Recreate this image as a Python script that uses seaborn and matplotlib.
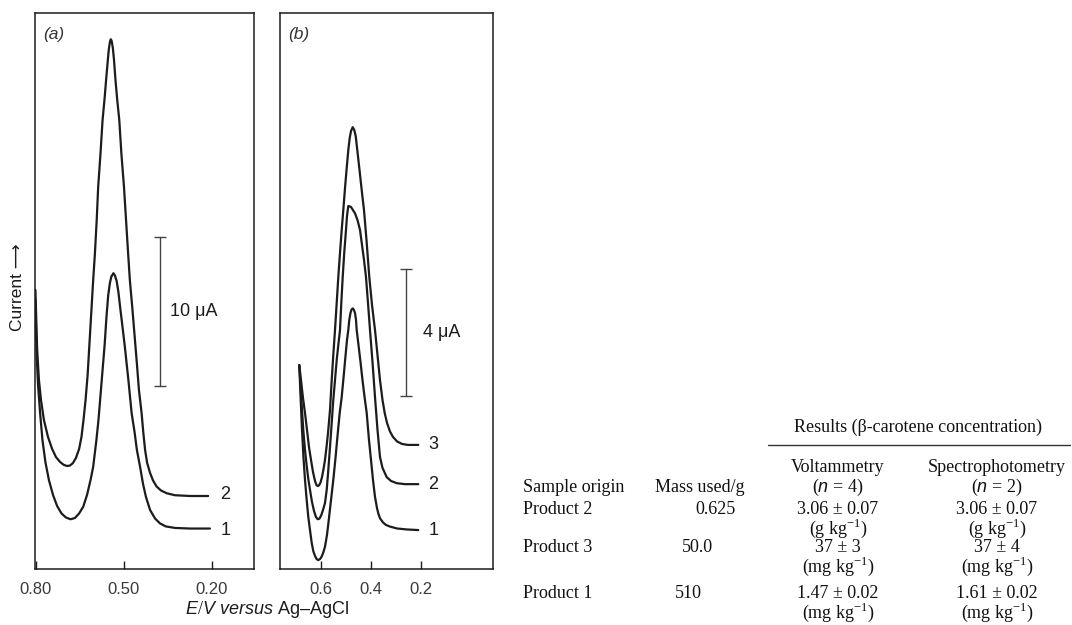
import numpy as np
import pandas as pd
import matplotlib
matplotlib.use('Agg')
import matplotlib.pyplot as plt
import seaborn as sns

# panel (a): potential E (V) and current I (uA)
a1_E = [0.802, 0.800, 0.797, 0.793, 0.786, 0.778, 0.768, 0.756, 0.742, 0.728,
        0.713, 0.698, 0.682, 0.667, 0.653, 0.639, 0.626, 0.614, 0.605, 0.594,
        0.587, 0.580, 0.573, 0.566, 0.560, 0.554, 0.548, 0.543, 0.536, 0.531,
        0.525, 0.519, 0.512, 0.505, 0.497, 0.485, 0.474, 0.464, 0.456, 0.445,
        0.435, 0.425, 0.411, 0.394, 0.377, 0.357, 0.326, 0.275, 0.207]
a1_I = [18.02, 16.01, 14.00, 12.32, 10.45, 8.64, 7.17, 5.96, 4.96, 4.22,
        3.72, 3.45, 3.33, 3.42, 3.72, 4.17, 4.96, 5.96, 6.85, 8.64,
        9.98, 11.65, 13.33, 15.00, 16.81, 18.29, 19.16, 19.59, 19.81, 19.66,
        19.29, 18.55, 17.35, 16.21, 14.87, 12.66, 10.45, 9.18, 7.97, 6.83,
        5.69, 4.82, 3.95, 3.38, 3.05, 2.85, 2.75, 2.71, 2.71]
a2_E = [0.802, 0.799, 0.796, 0.790, 0.783, 0.773, 0.759, 0.745, 0.732, 0.718,
        0.705, 0.694, 0.684, 0.674, 0.664, 0.653, 0.645, 0.638, 0.631, 0.624,
        0.618, 0.611, 0.605, 0.599, 0.593, 0.588, 0.580, 0.573, 0.566, 0.561,
        0.556, 0.552, 0.548, 0.545, 0.542, 0.538, 0.534, 0.529, 0.523, 0.516,
        0.509, 0.500, 0.493, 0.486, 0.480, 0.471, 0.464, 0.457, 0.449, 0.440,
        0.434, 0.428, 0.421, 0.411, 0.401, 0.389, 0.374, 0.354, 0.326, 0.275,
        0.213]
a2_I = [18.69, 16.68, 14.67, 12.66, 11.32, 9.98, 8.84, 8.04, 7.50, 7.17,
        6.97, 6.90, 6.93, 7.10, 7.43, 8.04, 8.84, 9.98, 11.32, 12.99,
        15.00, 17.35, 19.36, 21.17, 23.38, 25.59, 27.86, 30.07, 31.55, 32.75,
        33.89, 34.76, 35.30, 35.48, 35.37, 34.90, 34.09, 32.75, 31.41, 30.07,
        27.86, 25.59, 23.38, 21.17, 19.36, 17.35, 15.67, 14.00, 11.99, 10.45,
        9.11, 7.97, 7.10, 6.43, 5.93, 5.53, 5.26, 5.07, 4.94, 4.89,
        4.89]

# panel (b)
b1_E = [0.6856, 0.6808, 0.6748, 0.6688, 0.6628, 0.6560, 0.6496, 0.6428, 0.6360, 0.6296,
        0.6228, 0.6160, 0.6096, 0.6028, 0.5960, 0.5896, 0.5828, 0.5748, 0.5668, 0.5588,
        0.5496, 0.5408, 0.5328, 0.5240, 0.5160, 0.5088, 0.5016, 0.4948, 0.4896, 0.4856,
        0.4808, 0.4768, 0.4720, 0.4676, 0.4628, 0.4588, 0.4560, 0.4488, 0.4408, 0.4328,
        0.4240, 0.4160, 0.4068, 0.3988, 0.3908, 0.3828, 0.3748, 0.3688, 0.3628, 0.3508,
        0.3388, 0.3228, 0.2948, 0.2560, 0.2096]
b1_I = [6.39, 5.45, 4.36, 3.48, 2.79, 2.16, 1.63, 1.22, 0.82, 0.56,
        0.41, 0.31, 0.28, 0.31, 0.39, 0.52, 0.70, 1.07, 1.60, 2.16,
        2.79, 3.48, 4.17, 4.89, 5.39, 5.99, 6.61, 7.18, 7.49, 7.81,
        8.03, 8.13, 8.17, 8.13, 8.03, 7.81, 7.49, 7.02, 6.49, 5.92,
        5.36, 4.89, 4.04, 3.42, 2.79, 2.26, 1.91, 1.72, 1.59, 1.46,
        1.38, 1.33, 1.27, 1.24, 1.22]
b2_E = [0.6856, 0.6808, 0.6748, 0.6696, 0.6628, 0.6560, 0.6496, 0.6428, 0.6348, 0.6268,
        0.6188, 0.6120, 0.6048, 0.5976, 0.5908, 0.5828, 0.5760, 0.5696, 0.5628, 0.5560,
        0.5496, 0.5428, 0.5360, 0.5296, 0.5228, 0.5176, 0.5120, 0.5056, 0.4988, 0.4948,
        0.4896, 0.4788, 0.4708, 0.4628, 0.4528, 0.4428, 0.4348, 0.4268, 0.4188, 0.4108,
        0.4028, 0.3928, 0.3828, 0.3728, 0.3628, 0.3528, 0.3360, 0.3188, 0.2960, 0.2628,
        0.2096]
b2_I = [6.39, 5.77, 4.98, 4.36, 3.73, 3.23, 2.82, 2.48, 2.10, 1.82,
        1.63, 1.56, 1.58, 1.69, 1.85, 2.07, 2.48, 3.10, 3.82, 4.58,
        5.30, 5.92, 6.55, 7.02, 7.49, 8.34, 9.15, 9.94, 10.63, 11.07,
        11.38, 11.35, 11.25, 11.15, 10.94, 10.63, 10.16, 9.69, 9.15, 8.34,
        7.49, 6.49, 5.39, 4.36, 3.51, 3.17, 2.88, 2.76, 2.69, 2.66,
        2.66]
b3_E = [0.6856, 0.6788, 0.6708, 0.6628, 0.6548, 0.6468, 0.6388, 0.6308, 0.6228, 0.6168,
        0.6120, 0.6068, 0.6008, 0.5948, 0.5888, 0.5828, 0.5768, 0.5708, 0.5628, 0.5560,
        0.5496, 0.5428, 0.5360, 0.5296, 0.5228, 0.5160, 0.5096, 0.5028, 0.4960, 0.4896,
        0.4840, 0.4788, 0.4720, 0.4656, 0.4600, 0.4536, 0.4448, 0.4360, 0.4268, 0.4168,
        0.4056, 0.3948, 0.3828, 0.3728, 0.3628, 0.3528, 0.3440, 0.3348, 0.3228, 0.3108,
        0.2948, 0.2748, 0.2508, 0.2096]
b3_I = [6.39, 5.92, 5.36, 4.89, 4.36, 3.82, 3.42, 3.04, 2.76, 2.63,
        2.60, 2.62, 2.71, 2.88, 3.13, 3.42, 3.82, 4.26, 4.98, 5.92,
        6.71, 7.49, 8.34, 9.15, 9.91, 10.63, 11.25, 11.94, 12.57, 13.13,
        13.51, 13.73, 13.85, 13.76, 13.57, 13.13, 12.51, 11.88, 11.25, 10.31,
        9.15, 8.28, 7.49, 6.71, 5.92, 5.30, 4.89, 4.58, 4.31, 4.14,
        4.00, 3.92, 3.89, 3.89]

a_ticks = [0.80, 0.50, 0.20]
a_ticklabels = ['0.80', '0.50', '0.20']
b_ticks = [0.6, 0.4, 0.2]
b_ticklabels = ['0.6', '0.4', '0.2']

# table
tab_samples = ['Product 2', 'Product 3', 'Product 1']
tab_mass = ['0.625', '50.0', '510']
tab_volt = ['3.06 ± 0.07', '37 ± 3', '1.47 ± 0.02']
tab_spec = ['3.06 ± 0.07', '37 ± 4', '1.61 ± 0.02']
tab_units = ['(g kg$^{-1}$)', '(mg kg$^{-1}$)', '(mg kg$^{-1}$)']

sns.set_theme(style='white')
plt.rcParams['font.family'] = ['Liberation Sans', 'DejaVu Sans']
plt.rcParams['mathtext.fontset'] = 'custom'
plt.rcParams['mathtext.rm'] = 'Liberation Serif'
plt.rcParams['mathtext.it'] = 'Liberation Sans:italic'

ink = '#1c1c1c'
W, H = 1072, 625
fig = plt.figure(figsize=(10.72, 6.25), dpi=100)


def px(x, y):
    return x / W, 1 - y / H


def make_df(curves):
    rows = []
    for name, E, I in curves:
        rows.append(pd.DataFrame({'E': E, 'I': I, 'curve': name}))
    return pd.concat(rows, ignore_index=True)


def style_ax(ax, ticks, labels):
    ax.set_xticks(ticks)
    ax.set_xticklabels(labels)
    ax.set_yticks([])
    ax.set_xlabel('')
    ax.set_ylabel('')
    ax.tick_params(axis='x', direction='in', length=6, width=1, pad=9,
                   labelsize=12, colors=ink, labelcolor='#3a3a3a', bottom=True)
    for s in ax.spines.values():
        s.set_color(ink)
        s.set_linewidth(1.1)


# panel (a)
ax_a = fig.add_axes([35 / W, 56 / H, 219 / W, 556 / H])
df_a = make_df([('1', a1_E, a1_I), ('2', a2_E, a2_I)])
sns.lineplot(data=df_a, x='E', y='I', units='curve', estimator=None, sort=False,
             color=ink, lw=1.6, ax=ax_a)
ax_a.set_xlim(0.8034, 0.0567)
ax_a.set_ylim(0, 37.24)
style_ax(ax_a, a_ticks, a_ticklabels)
ax_a.text(0.037, 0.962, '(a)', transform=ax_a.transAxes, fontsize=12.5,
          style='italic', color='#333333', va='center')
ax_a.plot([0.3772, 0.3772], [12.26, 22.26], color='#444444', lw=1,
          marker='_', ms=8, mew=1)
ax_a.text(0.343, 17.28, '10 μA', fontsize=13, color=ink, va='center')
ax_a.text(0.155, 4.96, '2', fontsize=13, color=ink, ha='center', va='center')
ax_a.text(0.155, 2.61, '1', fontsize=13, color=ink, ha='center', va='center')

# panel (b)
ax_b = fig.add_axes([280 / W, 56 / H, 213 / W, 556 / H])
df_b = make_df([('1', b1_E, b1_I), ('2', b2_E, b2_I), ('3', b3_E, b3_I)])
sns.lineplot(data=df_b, x='E', y='I', units='curve', estimator=None, sort=False,
             color=ink, lw=1.6, ax=ax_b)
ax_b.set_xlim(0.7628, -0.0892)
ax_b.set_ylim(0, 17.43)
style_ax(ax_b, b_ticks, b_ticklabels)
ax_b.text(0.037, 0.962, '(b)', transform=ax_b.transAxes, fontsize=12.5,
          style='italic', color='#333333', va='center')
ax_b.plot([0.26, 0.26], [5.42, 9.42], color='#444444', lw=1,
          marker='_', ms=8, mew=1)
ax_b.text(0.191, 7.40, '4 μA', fontsize=13, color=ink, va='center')
ax_b.text(0.15, 3.89, '3', fontsize=13, color=ink, ha='center', va='center')
ax_b.text(0.15, 2.66, '2', fontsize=13, color=ink, ha='center', va='center')
ax_b.text(0.15, 1.22, '1', fontsize=13, color=ink, ha='center', va='center')

# shared axis labels
fig.text(*px(267, 610), r'$\mathit{E/V\ versus}$ Ag–AgCl', fontsize=13,
         color=ink, ha='center', va='center')
fig.text(*px(18, 287), 'Current ⟶', fontsize=12.5, color=ink, rotation=90,
         ha='center', va='center')

# table of results
serif = dict(family='Liberation Serif', fontsize=13, color='#111111', va='center')
fig.text(*px(918, 427), 'Results (β-carotene concentration)', ha='center', **serif)
fig.add_artist(plt.Line2D([768 / W, 1070 / W], [1 - 445 / H, 1 - 445 / H],
                          color='#333333', lw=1))
fig.text(*px(838, 467), 'Voltammetry', ha='center', **serif)
fig.text(*px(838, 487), '($\\mathit{n}$ = 4)', ha='center', **serif)
fig.text(*px(997, 467), 'Spectrophotometry', ha='center', **serif)
fig.text(*px(997, 487), '($\\mathit{n}$ = 2)', ha='center', **serif)
fig.text(*px(523, 488), 'Sample origin', ha='left', **serif)
fig.text(*px(700, 488), 'Mass used/g', ha='center', **serif)

row_y = [510, 548, 594]
mass_x = [716, 697, 688]
for i in range(3):
    y = row_y[i]
    fig.text(*px(523, y), tab_samples[i], ha='left', **serif)
    fig.text(*px(mass_x[i], y), tab_mass[i], ha='center', **serif)
    fig.text(*px(838, y), tab_volt[i], ha='center', **serif)
    fig.text(*px(997, y), tab_spec[i], ha='center', **serif)
    fig.text(*px(838, y + 18), tab_units[i], ha='center', **serif)
    fig.text(*px(997, y + 18), tab_units[i], ha='center', **serif)

fig.savefig('out.png', dpi=100, facecolor='white')
